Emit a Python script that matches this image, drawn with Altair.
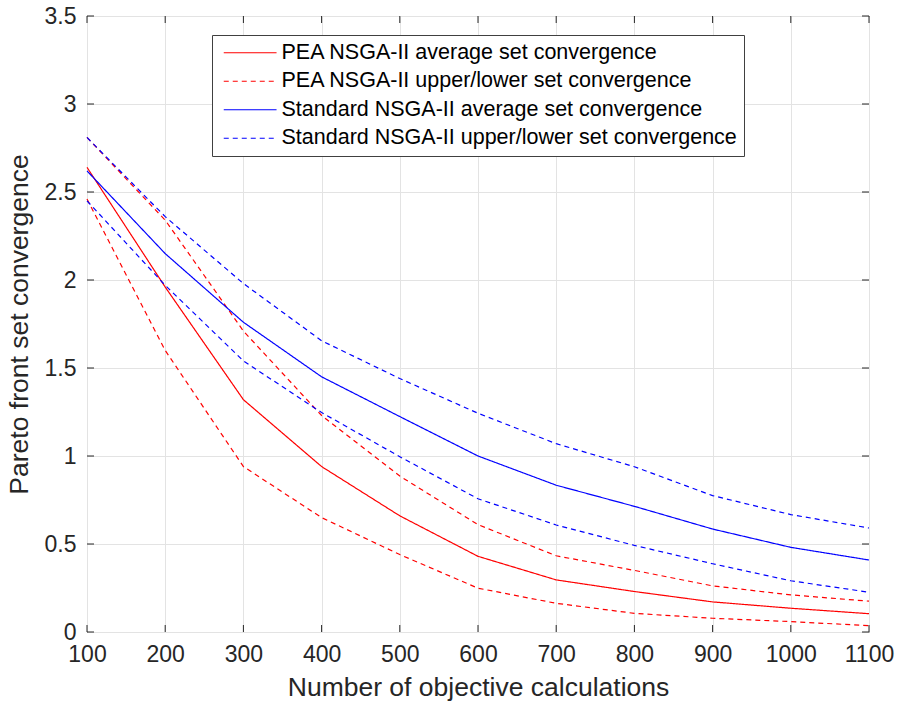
import altair as alt
import pandas as pd

# Number of objective calculations
calcs = [100, 200, 300, 400, 500, 600, 700, 800, 900, 1000, 1100]

# PEA NSGA-II set convergence
pea_avg = [2.64, 1.96, 1.32, 0.94, 0.66, 0.43, 0.296, 0.23, 0.171, 0.135, 0.104]
pea_upper = [2.81, 2.34, 1.71, 1.23, 0.886, 0.61, 0.433, 0.35, 0.262, 0.211, 0.175]
pea_lower = [2.46, 1.60, 0.94, 0.65, 0.44, 0.249, 0.163, 0.106, 0.078, 0.059, 0.036]

# Standard NSGA-II set convergence
std_avg = [2.62, 2.15, 1.76, 1.45, 1.224, 1.0, 0.834, 0.714, 0.585, 0.481, 0.409]
std_upper = [2.81, 2.36, 1.98, 1.655, 1.44, 1.243, 1.07, 0.939, 0.775, 0.667, 0.591]
std_lower = [2.45, 1.97, 1.54, 1.247, 0.996, 0.757, 0.608, 0.492, 0.388, 0.291, 0.226]

series_names = [
    "PEA NSGA-II average set convergence",
    "PEA NSGA-II upper/lower set convergence",
    "Standard NSGA-II average set convergence",
    "Standard NSGA-II upper/lower set convergence",
]
series_colors = ["#ff0000", "#ff0000", "#0000ff", "#0000ff"]
series_dashes = [[1, 0], [5, 4], [1, 0], [5, 4]]

x_ticks = [100, 200, 300, 400, 500, 600, 700, 800, 900, 1000, 1100]
y_ticks = [0, 0.5, 1, 1.5, 2, 2.5, 3, 3.5]

rows = []
for name, bound, vals in [
    (series_names[0], "avg", pea_avg),
    (series_names[1], "upper", pea_upper),
    (series_names[1], "lower", pea_lower),
    (series_names[2], "avg", std_avg),
    (series_names[3], "upper", std_upper),
    (series_names[3], "lower", std_lower),
]:
    for xv, yv in zip(calcs, vals):
        rows.append({"series": name, "bound": bound, "calcs": xv, "conv": yv})
df = pd.DataFrame(rows)

W, H = 782, 616
FONT = "Liberation Sans"
INK = "#262626"
TICK_LEN = 7

x_scale = alt.Scale(domain=[100, 1100], nice=False, zero=False)
y_scale = alt.Scale(domain=[0, 3.5], nice=False)
x_title = "Number of objective calculations"
y_title = "Pareto front set convergence"
x_axis = alt.Axis(values=x_ticks, format="d", labelPadding=11, titlePadding=8, labelFlush=False)
y_axis = alt.Axis(values=y_ticks, format="~g", labelPadding=11, titlePadding=11, labelFlush=False)


def x_enc():
    return alt.X("calcs:Q", scale=x_scale, title=x_title, axis=x_axis)


def y_enc():
    return alt.Y("conv:Q", scale=y_scale, title=y_title, axis=y_axis)


# Legend line sample: ~53 px long starting at the symbol's left edge,
# dashed for the upper/lower entries
SYM = 12
legend_line = "M-1,0H7.8"
legend_dash = {"expr": "test(/upper/, datum.value) ? [5, 4] : [1, 0]"}

lines = alt.Chart(df).mark_line(strokeWidth=1.2).encode(
    x=x_enc(),
    y=y_enc(),
    color=alt.Color(
        "series:N",
        sort=series_names,
        scale=alt.Scale(domain=series_names, range=series_colors),
        legend=alt.Legend(title=None, symbolDash=legend_dash),
    ),
    strokeDash=alt.StrokeDash(
        "series:N",
        sort=series_names,
        scale=alt.Scale(domain=series_names, range=series_dashes),
        legend=None,
    ),
    detail="bound:N",
)

# Inward-pointing tick marks on all four sides of the box
xt = pd.DataFrame({"calcs": x_ticks})
yt = pd.DataFrame({"conv": y_ticks})
tick_style = dict(color=INK, strokeWidth=1)

ticks_bottom = alt.Chart(xt).mark_rule(**tick_style).encode(
    x=x_enc(), y=alt.value(H), y2=alt.value(H - TICK_LEN)
)
ticks_top = alt.Chart(xt).mark_rule(**tick_style).encode(
    x=x_enc(), y=alt.value(0), y2=alt.value(TICK_LEN)
)
ticks_left = alt.Chart(yt).mark_rule(**tick_style).encode(
    y=y_enc(), x=alt.value(0), x2=alt.value(TICK_LEN)
)
ticks_right = alt.Chart(yt).mark_rule(**tick_style).encode(
    y=y_enc(), x=alt.value(W), x2=alt.value(W - TICK_LEN)
)

chart = (
    alt.layer(lines, ticks_bottom, ticks_top, ticks_left, ticks_right)
    .properties(
        width=W,
        height=H,
        autosize=alt.AutoSizeParams(type="none"),
        padding={"left": 87, "top": 16, "right": 32, "bottom": 79},
    )
    .configure(font=FONT)
    .configure_view(stroke="#404040", strokeWidth=1)
    .configure_axis(
        domain=False,
        ticks=False,
        grid=True,
        gridColor="#e3e3e3",
        gridWidth=1,
        labelFont=FONT,
        labelFontSize=23,
        labelColor=INK,
        titleFont=FONT,
        titleFontSize=26.5,
        titleFontWeight="normal",
        titleColor=INK,
    )
    .configure_legend(
        orient="none",
        legendX=125,
        legendY=19,
        direction="vertical",
        fillColor="white",
        strokeColor="#404040",
        padding=7,
        cornerRadius=0,
        symbolType=legend_line,
        symbolSize=SYM * SYM,
        symbolStrokeWidth=1.2,
        labelFont=FONT,
        labelFontSize=21.5,
        labelColor="#000000",
        labelOffset=41,
        rowPadding=5.5,
        labelLimit=700,
    )
)

chart.save("out.html", embed_options={"renderer": "svg", "actions": False})
